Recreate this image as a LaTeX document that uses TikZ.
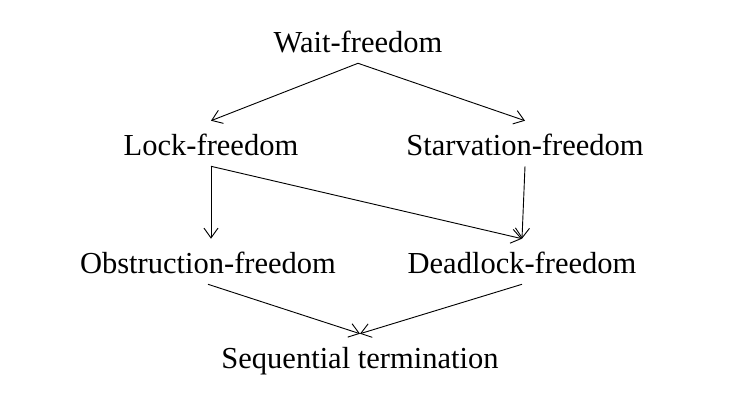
\documentclass[tikz,border=0pt]{standalone}
\usepackage{fontspec}
\setmainfont{Liberation Serif}
\usepackage{tikz}
\usetikzlibrary{arrows.meta}

\begin{document}
\begin{tikzpicture}[x=0.025cm,y=-0.025cm,
		prop/.style={anchor=base,inner xsep=0pt,inner ysep=0.275cm,text height=0.575cm,text depth=0pt,font=\fontsize{21.7}{26}\selectfont},
		impl/.style={-{Straight Barb[length=7pt,width=10pt]},line width=0.65pt}]
			\useasboundingbox (0,0) rectangle (738,408);
			\node[prop] (wait) at (358,52) {Wait-freedom};
			\node[prop] (lock) at (211,155) {Lock-freedom};
			\node[prop] (starv) at (525,155) {Starvation-freedom};
			\node[prop] (obstr) at (208,273) {Obstruction-freedom};
			\node[prop] (dead) at (522,273) {Deadlock-freedom};
			\node[prop] (seq) at (360,368) {Sequential termination};
			\draw[impl] (wait.south) -- (lock.north);
			\draw[impl] (wait.south) -- (starv.north);
			\draw[impl] (lock.south) -- (lock.south |- obstr.north);
			\draw[impl] (lock.south) -- (dead.north);
			\draw[impl] (starv.south) -- (dead.north);
			\draw[impl] (obstr.south) -- (seq.north);
			\draw[impl] (dead.south) -- (seq.north);
		\end{tikzpicture}
\end{document}
